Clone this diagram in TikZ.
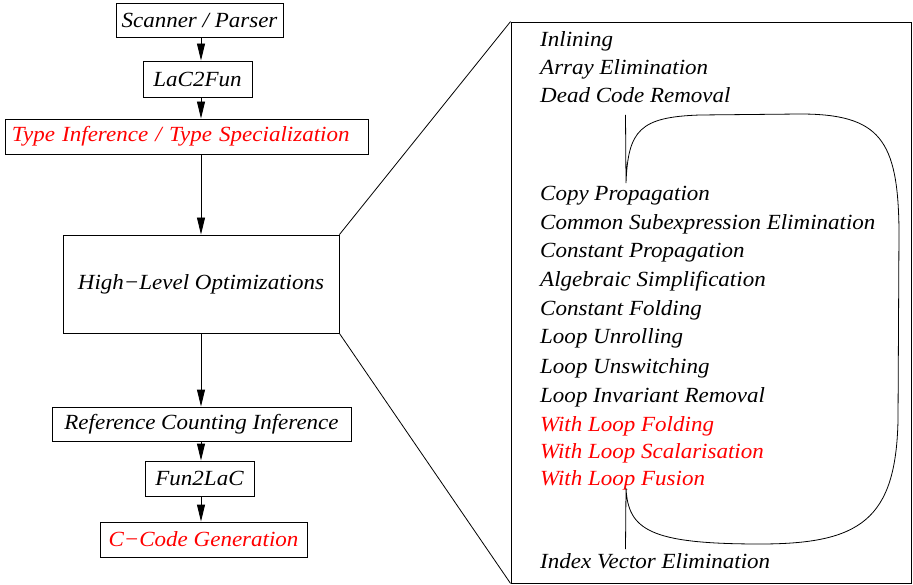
\documentclass[tikz,border=0pt]{standalone}
\usepackage{fontspec}
\setmainfont{Liberation Serif}[FakeStretch=1.065]
\usetikzlibrary{arrows.meta,calc}
\begin{document}
\begin{tikzpicture}[x=1pt,y=-1pt,
  every node/.style={font=\fontsize{21.6}{25}\selectfont\itshape},
  stage/.style={draw, line width=0.9pt, inner sep=0pt, anchor=center},
  opt/.style={anchor=base west, inner sep=0pt},
  hot/.style={text=red},
  arr/.style={line width=0.9pt, -{Triangle[length=17pt,width=8pt]}},
  thin/.style={line width=0.8pt}]
\useasboundingbox (0,0) rectangle (913,585);
% left column
\node[stage, minimum width=167pt, minimum height=34pt] (scan) at (199.5,20.5) {Scanner / Parser};
\node[stage, minimum width=109pt, minimum height=36pt] (lac) at (197.5,79) {LaC2Fun};
\node[stage, minimum width=363pt, minimum height=35pt, hot, text width=349pt, align=left] (type) at (186.5,136.5) {Type Inference / Type Specialization};
\node[stage, minimum width=276pt, minimum height=98pt] (hlo) at (201,284) {High−Level Optimizations};
\node[stage, minimum width=299pt, minimum height=34pt] (ref) at (201.5,424) {Reference Counting Inference};
\node[stage, minimum width=109pt, minimum height=35pt] (fun) at (199.5,478.5) {Fun2LaC};
\node[stage, minimum width=207pt, minimum height=35pt, hot] (cc) at (203.5,539.5) {C−Code Generation};
\coordinate (ax) at (201,0);
\draw[arr] (scan.south -| ax) -- (lac.north -| ax);
\draw[arr] (lac.south -| ax) -- (type.north -| ax);
\draw[arr] (type.south -| ax) -- (hlo.north -| ax);
\draw[arr] (hlo.south -| ax) -- (ref.north -| ax);
\draw[arr] (ref.south -| ax) -- (fun.north -| ax);
\draw[arr] (fun.south -| ax) -- (cc.north -| ax);
% right panel
\node[stage, minimum width=400pt, minimum height=561pt] (panel) at (711,302.5) {};
\draw[thin] (hlo.north east) -- (panel.north west);
\draw[thin] (hlo.south east) -- (panel.south west);
% optimisation list
\node[opt] (o1) at (540,47) {Inlining};
\node[opt] (o2) at (540,75) {Array Elimination};
\node[opt] (o3) at (540,103) {Dead Code Removal};
\node[opt] (o4) at (540,201) {Copy Propagation};
\node[opt] (o5) at (540,230) {Common Subexpression Elimination};
\node[opt] (o6) at (540,258) {Constant Propagation};
\node[opt] (o7) at (540,287) {Algebraic Simplification};
\node[opt] (o8) at (540,316) {Constant Folding};
\node[opt] (o9) at (540,344) {Loop Unrolling};
\node[opt] (o10) at (540,373) {Loop Unswitching};
\node[opt] (o11) at (540,402) {Loop Invariant Removal};
\node[opt, hot] (o12) at (540,431) {With Loop Folding};
\node[opt, hot] (o13) at (540,458) {With Loop Scalarisation};
\node[opt, hot] (o14) at (540,485) {With Loop Fusion};
\node[opt] (o15) at (540,568) {Index Vector Elimination};
% loop
\coordinate (lt) at (625.5,115);
\coordinate (lb) at (625.5,549);
\draw[thin] (lt) -- (626,183)
  .. controls (628,130) and (640,117) .. (700,115)
  -- (800,114)
  .. controls (880,114) and (898,140) .. (899,230)
  -- (898,420)
  .. controls (896,520) and (860,544) .. (760,544)
  .. controls (650,544) and (628,530) .. (626,488)
  -- (lb);
\end{tikzpicture}
\end{document}
